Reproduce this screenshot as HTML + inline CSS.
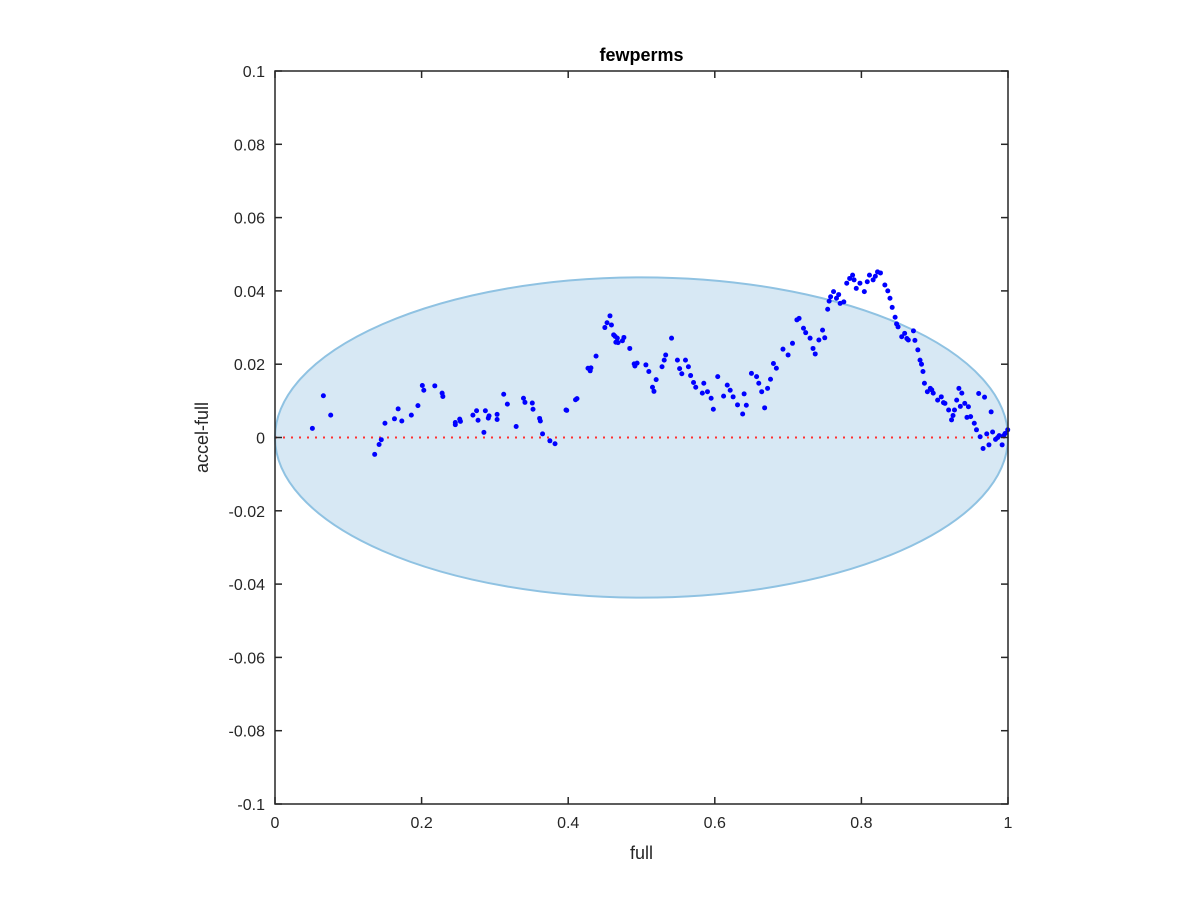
<!DOCTYPE html>
<html><head><meta charset="utf-8"><style>
body{margin:0;background:#fff;font-family:"Liberation Sans",sans-serif}
svg text{font-family:"Liberation Sans",sans-serif}
</style></head><body>
<svg id="chart" width="1200" height="900" viewBox="0 0 1200 900" xmlns="http://www.w3.org/2000/svg">
<rect width="1200" height="900" fill="#fff"/>
<g id="plot"></g>
</svg>
<script>
const xTicks=[0,0.2,0.4,0.6,0.8,1];
const xTickLabels=["0","0.2","0.4","0.6","0.8","1"];
const yTicks=[-0.1,-0.08,-0.06,-0.04,-0.02,0,0.02,0.04,0.06,0.08,0.1];
const yTickLabels=["-0.1","-0.08","-0.06","-0.04","-0.02","0","0.02","0.04","0.06","0.08","0.1"];
const ellipseCenter=[0.5,0];
const ellipseRadii=[0.5,0.0437];
const xs=[.051,.066,.076,.136,.142,.145,.150,.163,.168,.173,.186,.195,.201,.203,.218,.228,.229,.246,.246,.252,.253,.270,.275,.277,.285,.287,.291,.292,.303,.303,.312,.317,.329,.339,.341,.351,.352,.361,.362,.365,.375,.382,.397,.398,.410,.412,.427,.431,.430,.438,.450,.453,.457,.459,.462,.464,.467,.465,.468,.474,.476,.484,.490,.494,.491,
.506,.510,.515,.517,.520,.528,.531,.533,.541,.549,.552,.555,.560,.564,.567,.571,.574,.583,.585,.590,.595,.598,.604,.612,.617,.621,.625,.631,.638,.640,.643,.650,.657,.660,.664,.668,.672,.676,.680,.684,.693,.700,.706,.712,.715,.721,.724,.730,.734,.737,.742,.747,.750,.754,.758,.762,.766,.771,.776,.780,.784,.788,.793,.798,.804,.811,.816,.822,.826,.832,.836,.839,.842,.846,.850,.855,.859,.864,.871,.873,.877,.880,.884,.886,.890,.894,.898,.904,.909,.914,.919,.923,.927,.930,.933,.937,.941,.946,.949,.954,.957,.962,.966,.971,.974,.979,.983,.988,.992,.996,.9996,
.756,.769,.790,.808,.819,.848,.862,.882,.896,.912,.925,.935,.944,.960,.968,.977,.986,.994];
const ys=[.0025,.0114,.0061,-.0046,-.0019,-.0006,.0039,.0051,.0078,.0045,.0061,.0087,.0142,.0129,.0141,.0121,.0112,.0041,.0035,.0050,.0044,.0061,.0073,.0047,.0014,.0073,.0053,.0059,.0063,.0049,.0118,.0091,.0030,.0107,.0096,.0094,.0077,.0052,.0045,.0010,-.0009,-.0017,.0075,.0074,.0103,.0106,.0189,.0190,.0182,.0222,.0300,.0313,.0332,.0307,.0280,.0276,.0271,.0260,.0259,.0264,.0273,.0243,.0201,.0203,.0195,
.0198,.0180,.0137,.0126,.0158,.0193,.0211,.0225,.0271,.0211,.0188,.0174,.0211,.0193,.0169,.0150,.0137,.0121,.0148,.0125,.0107,.0077,.0166,.0113,.0143,.0129,.0111,.0089,.0064,.0119,.0088,.0175,.0166,.0148,.0125,.0081,.0134,.0159,.0202,.0189,.0241,.0225,.0257,.0321,.0325,.0298,.0286,.0271,.0243,.0228,.0266,.0293,.0272,.0350,.0384,.0398,.0380,.0366,.0370,.0421,.0434,.0443,.0407,.0421,.0398,.0443,.0430,.0452,.0449,.0416,.0400,.0380,.0355,.0328,.0302,.0275,.0284,.0266,.0291,.0265,.0239,.0211,.0180,.0148,.0125,.0134,.0121,.0102,.0111,.0093,.0075,.0048,.0075,.0102,.0134,.0121,.0093,.0084,.0057,.0039,.0021,.0002,-.0030,.0010,-.0020,.0015,-.0005,.0005,-.0020,.0011,.0021,
.0372,.0390,.0430,.0425,.0440,.0310,.0270,.0200,.0130,.0095,.0060,.0085,.0055,.0120,.0110,.0070,.0000,.0005];

const X0=275,X1=1008,Y0=804,Y1=71;
const sx=v=>X0+(v-0)/(1-0)*(X1-X0);
const sy=v=>Y0-(v+0.1)/0.2*(Y0-Y1);
const NS="http://www.w3.org/2000/svg";
const g=document.getElementById('plot');
function mk(t,a,p){const e=document.createElementNS(NS,t);for(const k in a)e.setAttribute(k,a[k]);(p||g).appendChild(e);return e;}

const ell=mk('ellipse',{cx:sx(ellipseCenter[0]),cy:sy(ellipseCenter[1]),rx:sx(ellipseRadii[0])-sx(0),ry:sy(0)-sy(ellipseRadii[1]),fill:'#d7e8f4',stroke:'#8fc2e2','stroke-width':2});



const zl=mk('line',{x1:sx(0),x2:sx(1),y1:sy(0),y2:sy(0),stroke:'#ff3030','stroke-width':2,'stroke-dasharray':'2,6'});



const pts=mk('g',{});


for(let i=0;i<xs.length;i++){
  const c=mk('circle',{cx:sx(xs[i]),cy:sy(ys[i]),r:2.5,fill:'#0000ff'},pts);
  
  
}

const box=mk('rect',{x:X0,y:Y1,width:X1-X0,height:Y0-Y1,fill:'none',stroke:'#262626','stroke-width':1.5});



xTicks.forEach((v,i)=>{
  const x=sx(v);
  mk('line',{x1:x,x2:x,y1:Y0,y2:Y0-7,stroke:'#262626','stroke-width':1.5});
  mk('line',{x1:x,x2:x,y1:Y1,y2:Y1+7,stroke:'#262626','stroke-width':1.5});
  const t=mk('text',{x:x,y:Y0+24,'text-anchor':'middle','font-size':16,fill:'#262626'});
  t.textContent=xTickLabels[i];
  
  
});
yTicks.forEach((v,i)=>{
  const y=sy(v);
  mk('line',{x1:X0,x2:X0+7,y1:y,y2:y,stroke:'#262626','stroke-width':1.5});
  mk('line',{x1:X1,x2:X1-7,y1:y,y2:y,stroke:'#262626','stroke-width':1.5});
  const t=mk('text',{x:X0-10,y:y+6,'text-anchor':'end','font-size':16,fill:'#262626'});
  t.textContent=yTickLabels[i];
  
  
});
const title=mk('text',{x:(X0+X1)/2,y:61,'text-anchor':'middle','font-size':18,'font-weight':'bold',fill:'#000'});
title.textContent='fewperms';


const xl=mk('text',{x:(X0+X1)/2,y:859,'text-anchor':'middle','font-size':18,fill:'#262626'});
xl.textContent='full';


const yl=mk('text',{x:0,y:0,'text-anchor':'middle','font-size':18,fill:'#262626',transform:'translate(208,'+sy(0)+') rotate(-90)'});
yl.textContent='accel-full';


</script>
</body></html>
